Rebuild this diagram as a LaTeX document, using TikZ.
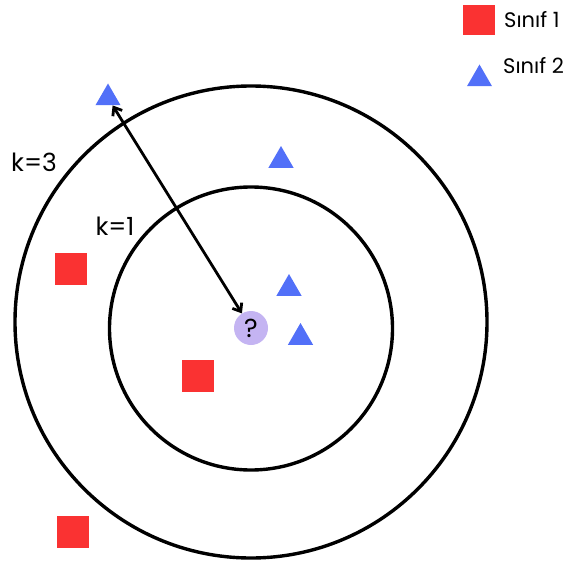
\documentclass[tikz,border=0pt]{standalone}
\usepackage{fontspec}
\setmainfont{Poppins}
\usetikzlibrary{shapes.geometric,arrows.meta}
\definecolor{sinifbir}{RGB}{250,50,50}
\definecolor{sinifiki}{RGB}{82,112,248}
\definecolor{soru}{RGB}{196,180,242}

\begin{document}
\begin{tikzpicture}[x=1pt,y=-1pt,
  kare/.style={fill=sinifbir,minimum size=32pt,inner sep=0pt},
  ucgen/.style={fill=sinifiki,regular polygon,regular polygon sides=3,minimum size=29pt,inner sep=0pt},
  etiket/.style={inner sep=0pt,font=\fontsize{25}{30}\selectfont},
  lejant/.style={inner sep=0pt,anchor=west,font=\fontsize{21}{25}\selectfont}]
  \useasboundingbox (0,0) rectangle (564,567);
  \coordinate (M) at (251,322); \coordinate (N) at (251,328.5);
  \draw[line width=3.4pt] (M) circle (236); \draw[line width=3.4pt] (N) circle (141.5);
  % nokta kumesi
  \node[kare] (S1) at (70.5,269) {}; \node[kare] (S2) at (197.5,376) {}; \node[kare] (S3) at (73,532) {};
  \node[ucgen] (T1) at (108,98) {}; \node[ucgen] (T2) at (281,160.5) {};
  \node[ucgen] (T3) at (289,288.5) {}; \node[ucgen] (T4) at (300.5,337.5) {};
  \node[circle,fill=soru,minimum size=34pt,inner sep=0pt,font=\fontsize{26}{30}\selectfont] (Q) at (251,328) {?};
  \draw[line width=2.8pt,{Straight Barb[length=7pt,width=11pt]}-{Straight Barb[length=7pt,width=11pt]}] (T1) -- (Q);
  \node[etiket] (K3) at (34,162) {k=3};
  \node[etiket] (K1) at (115,226) {k=1};
  % lejant
  \node[kare,minimum width=32pt,minimum height=30pt] (L1) at (479,20) {};
  \node[ucgen] (L2) at (479.5,79) {};
  \node[lejant] at (504,20) {Sınıf 1};
  \node[lejant] at (503,66) {Sınıf 2};
\end{tikzpicture}
\end{document}
